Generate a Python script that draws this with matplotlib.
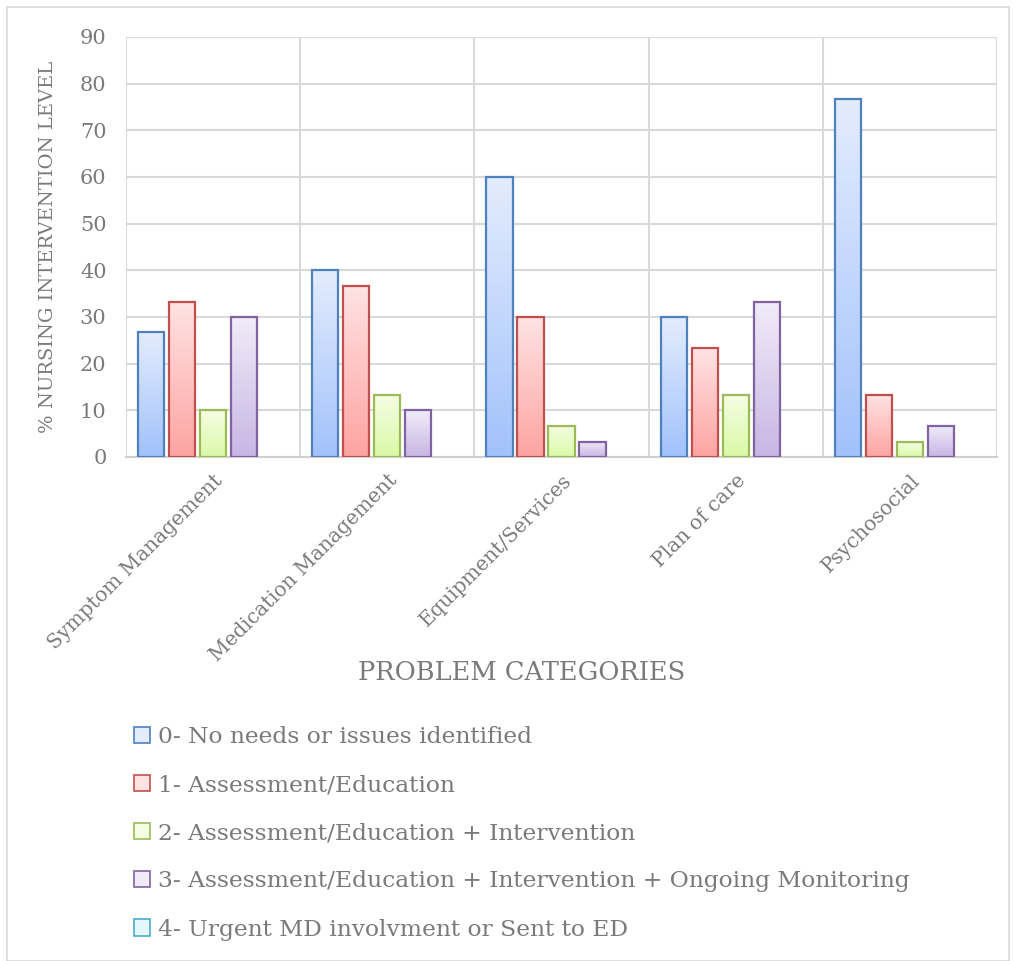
import numpy as np
import matplotlib.pyplot as plt
from matplotlib.patches import Patch, Rectangle
from matplotlib.colors import LinearSegmentedColormap

categories = ["Symptom Management", "Medication Management", "Equipment/Services",
              "Plan of care", "Psychosocial"]
series_names = ["0- No needs or issues identified",
                "1- Assessment/Education",
                "2- Assessment/Education + Intervention",
                "3- Assessment/Education + Intervention + Ongoing Monitoring",
                "4- Urgent MD involvment or Sent to ED"]
level0 = [26.7, 40.0, 60.0, 30.0, 76.7]
level1 = [33.3, 36.7, 30.0, 23.3, 13.3]
level2 = [10.0, 13.3, 6.7, 13.3, 3.3]
level3 = [30.0, 10.0, 3.3, 33.3, 6.7]
level4 = [0, 0, 0, 0, 0]
yticks = [0, 10, 20, 30, 40, 50, 60, 70, 80, 90]

# (top, bottom, edge)
styles = [("#e3ecfd", "#a2c2fb", "#4f81bd"),
          ("#ffe3e3", "#fda4a2", "#c0504d"),
          ("#f5fde3", "#daf9a8", "#9bbb59"),
          ("#f1ebf8", "#c8b6e4", "#8064a2"),
          ("#e3f7fc", "#a8e4f3", "#4bacc6")]

txt = "#7a7a7a"
plt.rcParams['font.family'] = ['DejaVu Serif']

fig = plt.figure(figsize=(10.16, 9.61), dpi=100)
fig.patches.append(Rectangle((7/1016, 0), 1 - 14/1016, 1 - 7/961, transform=fig.transFigure,
                             fill=False, edgecolor="#d9d9d9", linewidth=1.2))
ax = fig.add_axes([126/1016, 1 - 457/961, 871/1016, 420/961])

x = np.arange(len(categories))
width = 0.15
pitch = 0.178
data = [level0, level1, level2, level3, level4]
for i, vals in enumerate(data):
    top, bot, edge = styles[i]
    cmap = LinearSegmentedColormap.from_list("g%d" % i, [bot, top])
    xs = x + (i - 2) * pitch
    lw = [1.6 if v > 0 else 0 for v in vals]
    bars = ax.bar(xs, vals, width, facecolor="none", edgecolor=edge, linewidth=lw, zorder=3)
    for b, v in zip(bars, vals):
        if v <= 0:
            continue
        grad = np.linspace(0, 1, 100).reshape(-1, 1)
        im = ax.imshow(grad, cmap=cmap, origin="lower", aspect="auto",
                       extent=(b.get_x(), b.get_x() + width, 0, v), zorder=2)
        im.set_clip_path(b)

ax.set_xlim(-0.5, len(categories) - 0.5)
ax.set_ylim(0, 90)
ax.set_yticks(yticks)
ax.set_yticklabels([str(t) for t in yticks], fontsize=15, color=txt)
ax.set_xticks(x)
ax.set_xticklabels(categories, rotation=45, ha="right", rotation_mode="anchor",
                   fontsize=14.5, color=txt)
ax.tick_params(length=0, pad=14)
ax.tick_params(axis="x", pad=10)
ax.grid(axis="y", color="#d9d9d9", linewidth=1.5, zorder=0)
for b in np.arange(-0.5, len(categories), 1):
    ax.axvline(b, color="#d9d9d9", linewidth=1.5, zorder=0)
for s in ["top", "right", "left"]:
    ax.spines[s].set_visible(False)
ax.spines["bottom"].set_color("#d0d0d0")
ax.spines["bottom"].set_linewidth(1.5)

ax.set_ylabel("% NURSING INTERVENTION LEVEL", fontsize=14, color=txt)
ax.yaxis.set_label_coords(-69/871, 0.5)
ax.set_xlabel("PROBLEM CATEGORIES", fontsize=18.5, color=txt, va="center")
ax.xaxis.set_label_coords((522 - 126) / 871, -(672 - 457) / 420)

handles = [Patch(facecolor=s[0], edgecolor=s[2], linewidth=1.2) for s in styles]
fig.legend(handles, series_names, loc="upper left", bbox_to_anchor=(134/1016, 1 - 726/961),
           frameon=False, fontsize=16.8, labelcolor=txt, handlelength=0.7, handleheight=0.7,
           handletextpad=0.35, labelspacing=1.12, borderpad=0, borderaxespad=0)

fig.savefig("out.png", dpi=100)
